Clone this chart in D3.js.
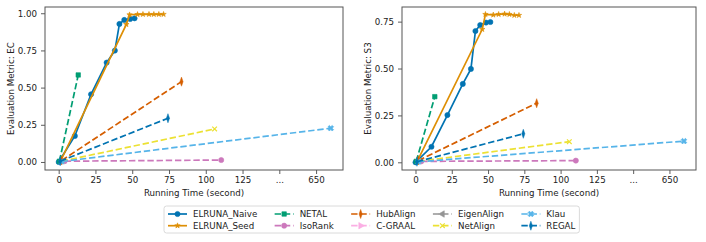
<!DOCTYPE html>
<html>
<head>
<meta charset="utf-8">
<script src="https://cdn.jsdelivr.net/npm/d3@7"></script>
<style>
  body { margin: 0; background: #fff; }
  svg text { font-family: "DejaVu Sans", sans-serif; font-size: 8.7px; fill: #222; }
</style>
</head>
<body>
<svg id="chart"></svg>
<script>
// running time (seconds) and scores for each method
const seriesNames = ["ELRUNA_Naive", "ELRUNA_Seed", "NETAL", "IsoRank", "HubAlign",
                     "C-GRAAL", "EigenAlign", "NetAlign", "Klau", "REGAL"];

const naiveTime = [0, 11, 22, 32.6, 38.2, 41.3, 44.6, 48.6, 51.6];
const naiveEC   = [0, 0.175, 0.455, 0.668, 0.749, 0.928, 0.955, 0.962, 0.966];
const naiveS3   = [0, 0.083, 0.252, 0.418, 0.498, 0.700, 0.732, 0.745, 0.748];

const seedTime = [1.5, 46, 48.2, 53.6, 57.3, 61.4, 64.7, 68.1, 71.3];
const seedEC   = [0.01, 0.925, 0.99, 0.992, 0.993, 0.993, 0.993, 0.993, 0.993];
const seedS3   = [0.01, 0.709, 0.789, 0.786, 0.789, 0.791, 0.789, 0.784, 0.784];

const netalTime = [0.5, 13.3];
const netalEC   = [0.005, 0.585];
const netalS3   = [0.005, 0.35];

const isorankTime = [4, 110.5];
const isorankEC   = [0.005, 0.013];
const isorankS3   = [0.005, 0.009];

const hubalignTime = [2, 83.5];
const hubalignEC   = [0.01, 0.54];
const hubalignS3   = [0.01, 0.315];

const cgraalTime = [];
const cgraalEC   = [];
const cgraalS3   = [];

const eigenTime = [];
const eigenEC   = [];
const eigenS3   = [];

const netalignTime = [2, 106];
const netalignEC   = [0.005, 0.222];
const netalignS3   = [0.005, 0.11];

const klauTime = [2, 660];
const klauEC   = [0.003, 0.227];
const klauS3   = [0.003, 0.113];

const regalTime = [1, 74.3];
const regalEC   = [0.005, 0.294];
const regalS3   = [0.003, 0.152];

const xTickValues = [0, 25, 50, 75, 100, 125, 150, 650];
const ecTicks = [0, 0.25, 0.5, 0.75, 1.0];
const s3Ticks = [0, 0.25, 0.5, 0.75];

const colors = ["#0173b2", "#de8f05", "#029e73", "#cc78bc", "#d55e00",
                "#fbafe4", "#949494", "#ece133", "#56b4e9", "#0173b2"];
const markers = ["circle", "star", "square", "circle", "thin", "tright", "tleft", "x", "X", "thin"];
const solid = [true, true, false, false, false, false, false, false, false, false];

const times = [naiveTime, seedTime, netalTime, isorankTime, hubalignTime,
               cgraalTime, eigenTime, netalignTime, klauTime, regalTime];
const ecVals = [naiveEC, seedEC, netalEC, isorankEC, hubalignEC,
                cgraalEC, eigenEC, netalignEC, klauEC, regalEC];
const s3Vals = [naiveS3, seedS3, netalS3, isorankS3, hubalignS3,
                cgraalS3, eigenS3, netalignS3, klauS3, regalS3];

const W = 706, H = 242;
const svg = d3.select("#chart").attr("width", W).attr("height", H);

function markerPath(kind) {
  const sym = {
    circle: d3.symbolCircle, star: d3.symbolStar, square: d3.symbolSquare,
    thin: d3.symbolDiamond, tright: d3.symbolTriangle, tleft: d3.symbolTriangle,
    x: d3.symbolTimes, X: d3.symbolCross
  }[kind];
  const size = {circle: 21, star: 9, square: 20, thin: 24, tright: 18, tleft: 18, x: 16, X: 20}[kind];
  return d3.symbol(sym, size)();
}
function markerTransform(kind, x, y) {
  let t = `translate(${x},${y})`;
  if (kind === "thin") t += " scale(0.6,1)";
  if (kind === "tright") t += " rotate(90)";
  if (kind === "tleft") t += " rotate(-90)";
  if (kind === "X") t += " rotate(45)";
  return t;
}
function drawMarker(g, kind, color, x, y) {
  const m = g.append("path")
    .attr("d", markerPath(kind))
    .attr("transform", markerTransform(kind, x, y));
  if (kind === "x") m.attr("fill", "none").attr("stroke", color).attr("stroke-width", 1.2);
  else m.attr("fill", color).attr("stroke", color).attr("stroke-width", 0.6);
}

function drawPanel(cfg) {
  const g = svg.append("g");
  // x: linear up to 150, then jumps to the 625-670 range
  const k = (cfg.right - cfg.left) / 202.6;
  const pBreak = cfg.left + (150 + 9.3) * k;
  const x = d3.scaleLinear()
    .domain([-9.3, 150, 625, 668.3])
    .range([cfg.left, pBreak, pBreak, cfg.right]);
  const y = d3.scaleLinear().domain(cfg.yDomain).range([cfg.bottom, cfg.top]);

  const xAxis = g.append("g")
    .attr("transform", `translate(0,${cfg.bottom})`)
    .call(d3.axisBottom(x).tickValues(xTickValues)
      .tickFormat(d => d === 150 ? "..." : d).tickSize(4).tickPadding(3));
  const yAxis = g.append("g")
    .attr("transform", `translate(${cfg.left},0)`)
    .call(d3.axisLeft(y).tickValues(cfg.yTicks)
      .tickFormat(d3.format(".2f")).tickSize(4).tickPadding(4));
  [xAxis, yAxis].forEach(a => {
    a.select(".domain").remove();
    a.selectAll(".tick line").attr("stroke", "#333").attr("stroke-width", 0.8);
    a.selectAll(".tick text").attr("fill", "#222")
      .style("font-family", "DejaVu Sans").style("font-size", "8.7px");
  });

  const line = d3.line().x(d => x(d[0])).y(d => y(d[1]));
  const plot = g.append("g");
  seriesNames.forEach((name, i) => {
    const pts = times[i].map((t, j) => [t, cfg.values[i][j]]);
    if (!pts.length) return;
    plot.append("path")
      .attr("d", line(pts))
      .attr("fill", "none")
      .attr("stroke", colors[i])
      .attr("stroke-width", 1.7)
      .attr("stroke-dasharray", solid[i] ? null : "6.4,2.8");
    pts.forEach(p => drawMarker(plot, markers[i], colors[i], x(p[0]), y(p[1])));
  });

  g.append("rect")
    .attr("x", cfg.left).attr("y", cfg.top)
    .attr("width", cfg.right - cfg.left).attr("height", cfg.bottom - cfg.top)
    .attr("fill", "none").attr("stroke", "#555").attr("stroke-width", 1);

  g.append("text")
    .attr("x", (cfg.left + cfg.right) / 2).attr("y", 196)
    .attr("text-anchor", "middle")
    .text("Running Time (second)");
  g.append("text")
    .attr("transform", `translate(${cfg.labelX},${(cfg.top + cfg.bottom) / 2}) rotate(-90)`)
    .attr("text-anchor", "middle")
    .text(cfg.yLabel);
}

drawPanel({left: 45, right: 343, top: 7, bottom: 170, yDomain: [-0.054, 1.042],
           yTicks: ecTicks, values: ecVals, yLabel: "Evaluation Metric: EC", labelX: 14});
drawPanel({left: 402, right: 696, top: 7, bottom: 170, yDomain: [-0.041, 0.828],
           yTicks: s3Ticks, values: s3Vals, yLabel: "Evaluation Metric: S3", labelX: 371});

// legend, 5 columns x 2 rows, column-major
const legend = svg.append("g");
const box = legend.append("rect");
const rowY = [214, 225.7];
let colX = 168;
let lastEnd = 0;
for (let c = 0; c < 5; c++) {
  let maxW = 0;
  for (let r = 0; r < 2; r++) {
    const i = c * 2 + r;
    const yy = rowY[r];
    legend.append("line")
      .attr("x1", colX).attr("x2", colX + 19).attr("y1", yy).attr("y2", yy)
      .attr("stroke", colors[i]).attr("stroke-width", 1.7)
      .attr("stroke-dasharray", solid[i] ? null : "6.4,2.8");
    drawMarker(legend, markers[i], colors[i], colX + 9.5, yy);
    const t = legend.append("text")
      .attr("x", colX + 25).attr("y", yy + 3.1)
      .text(seriesNames[i]);
    maxW = Math.max(maxW, t.node().getComputedTextLength());
  }
  lastEnd = colX + 25 + maxW;
  colX = lastEnd + 17.4;
}
box.attr("x", 164).attr("y", 206).attr("width", lastEnd + 4 - 164).attr("height", 27)
  .attr("rx", 2.5).attr("fill", "#fff").attr("stroke", "#d0d0d0").attr("stroke-width", 0.8);
</script>
</body>
</html>
